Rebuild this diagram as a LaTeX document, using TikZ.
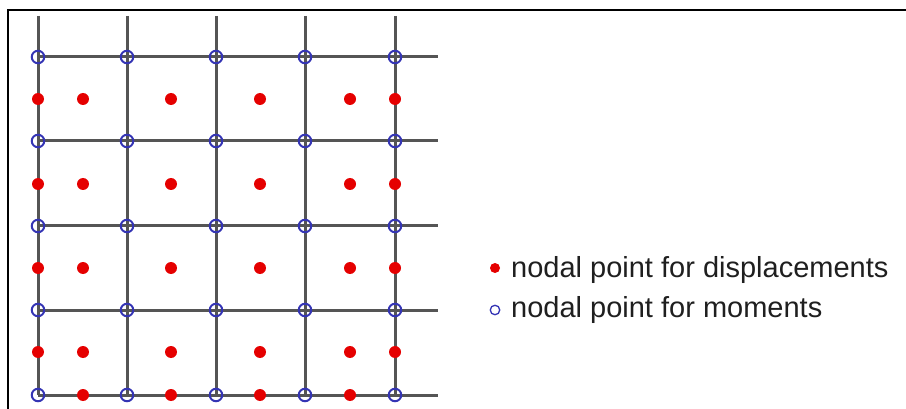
\documentclass[tikz,border=0pt]{standalone}
\usepackage{fontspec}
\setmainfont{Liberation Sans}
\definecolor{gridgray}{HTML}{555555}
\definecolor{mblue}{HTML}{3434B4}
\definecolor{dred}{HTML}{E50000}
\begin{document}
\begin{tikzpicture}[x=1pt,y=-1pt,
  gridline/.style={draw=gridgray, line width=3pt},
  mnode/.style={circle, draw=mblue, line width=2pt, minimum size=12.5pt, inner sep=0pt},
  dnode/.style={circle, fill=dred, minimum size=12pt, inner sep=0pt},
  legtext/.style={anchor=base west, inner sep=0pt, font=\fontsize{29}{34}\selectfont, text=black!88}]
\useasboundingbox (0,0) rectangle (906,409);
\draw[black, line width=1.5pt] (8,409) -- (8,10) -- (906,10);
% grid
\foreach \x in {38,127,216,305,395} \draw[gridline] (\x,16) -- (\x,395);
\foreach \y in {57,141,226,310,395} \draw[gridline] (38,\y) -- (438,\y);
% displacement points
\foreach \y [count=\j] in {99,184,268,352}
  \foreach \x [count=\i] in {38,83,171,260,350,395}
    \node[dnode] (d\i-\j) at (\x,\y) {};
\foreach \x [count=\i] in {83,171,260,350}
  \node[dnode] (db\i) at (\x,395) {};
% moment points
\foreach \x [count=\i] in {38,127,216,305,395}
  \foreach \y [count=\j] in {57,141,226,310,395}
    \node[mnode] (m\i-\j) at (\x,\y) {};
% legend
\node[dnode, minimum size=10pt] (ld) at (495,268) {};
\node[legtext] (ldt) at (511,277) {nodal point for displacements};
\node[mnode, minimum size=9.5pt, line width=1.3pt] (lm) at (495,310) {};
\node[legtext] (lmt) at (511,317) {nodal point for moments};
\end{tikzpicture}
\end{document}
